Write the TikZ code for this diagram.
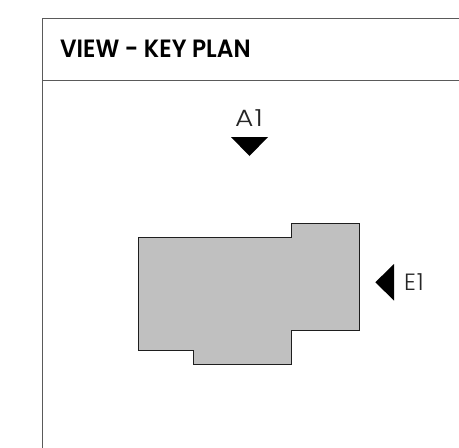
\documentclass[tikz,border=0pt]{standalone}
\usepackage{fontspec}
\setmainfont{Poppins}
\newfontfamily\thinfont[UprightFont=* Light,LetterSpace=4]{Poppins}
\newfontfamily\titlefont[UprightFont=* SemiBold]{Poppins}
\tikzset{
  frameline/.style={draw={rgb,255:red,90;green,90;blue,90},line width=0.8pt},
  marker/.style={fill=black,draw=none},
  viewlabel/.style={inner sep=0pt,font=\thinfont\fontsize{23.5}{23.5}\selectfont,text=black!85}
}
\begin{document}
\begin{tikzpicture}[x=1pt,y=1pt,yscale=-1,xscale=1]
\useasboundingbox (0,0) rectangle (459,448);

%Frame
\draw [frameline] (459,18.5) -- (42,18.5) -- (42,448);
\draw [frameline,line width=0.6pt] (42,80.3) -- (459,80.3);

%Building outline
\draw [fill={rgb,255:red,192;green,192;blue,192},draw={rgb,255:red,30;green,30;blue,30},line width=0.8pt] (138,237.5) -- (291.7,237.5) -- (291.7,223.5) -- (359.5,223.5) -- (359.5,330) -- (291.7,330) -- (291.7,364) -- (193.7,364) -- (193.7,350) -- (138,350) -- cycle ;

%View markers
\fill [marker] (231,137) -- (268,137) -- (249.5,156) -- cycle ;
\fill [marker] (394,264) -- (394,300.5) -- (375.3,282.3) -- cycle ;

% Text Node
\node (title) [anchor=west,inner sep=0pt,xscale=.93,font=\titlefont\fontsize{25}{25}\selectfont] at (60,49) {VIEW - KEY PLAN};
% Text Node
\node (labelA) [viewlabel,xscale=1.2] at (249,118) {A1};
% Text Node
\node (labelE) [viewlabel,anchor=west] at (404,282) {E1};
\end{tikzpicture}
\end{document}
